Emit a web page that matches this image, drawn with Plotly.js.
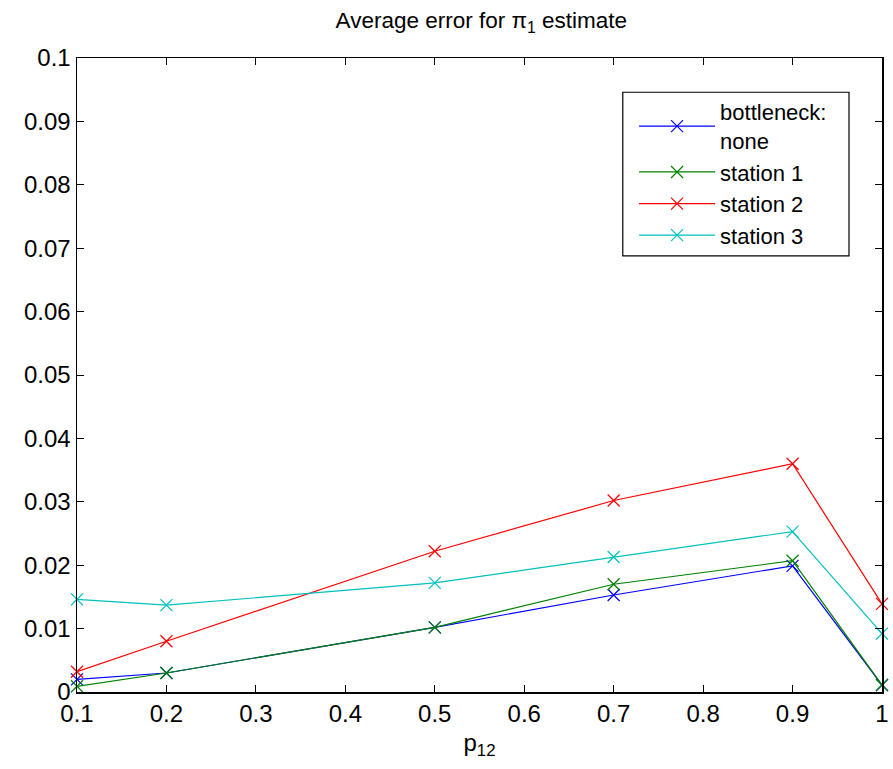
<!DOCTYPE html>
<html>
<head>
<meta charset="utf-8">
<script src="https://cdn.plot.ly/plotly-3.0.1.min.js"></script>
<style>body{margin:0;padding:0;background:#fff;}#chart{width:893px;height:769px;}</style>
</head>
<body>
<div id="chart"></div>
<script>
const p12 = [0.1, 0.2, 0.5, 0.7, 0.9, 1.0];
const seriesNames = ["bottleneck:<br>none", "station 1", "station 2", "station 3"];
const noneVals = [0.0020, 0.0030, 0.0102, 0.0153, 0.0199, 0.0011];
const station1Vals = [0.0009, 0.0030, 0.0102, 0.0170, 0.0207, 0.0011];
const station2Vals = [0.0032, 0.0080, 0.0222, 0.0302, 0.0360, 0.0139];
const station3Vals = [0.0146, 0.0137, 0.0172, 0.0213, 0.0253, 0.0092];
const colors = ["#0000ff", "#008000", "#ff0000", "#00bfbf"];
const xTicks = [0.1, 0.2, 0.3, 0.4, 0.5, 0.6, 0.7, 0.8, 0.9, 1];
const xTickText = ["0.1", "0.2", "0.3", "0.4", "0.5", "0.6", "0.7", "0.8", "0.9", "1"];
const yTicks = [0, 0.01, 0.02, 0.03, 0.04, 0.05, 0.06, 0.07, 0.08, 0.09, 0.1];
const yTickText = ["0", "0.01", "0.02", "0.03", "0.04", "0.05", "0.06", "0.07", "0.08", "0.09", "0.1"];

const allVals = [noneVals, station1Vals, station2Vals, station3Vals];
const traces = allVals.map((v, i) => ({
  x: p12, y: v, name: seriesNames[i], type: 'scatter', mode: 'lines+markers',
  line: {color: colors[i], width: 1.2},
  marker: {symbol: 'x-thin', size: 12, line: {color: colors[i], width: 1.2}},
  cliponaxis: false
}));

const fam = 'Liberation Sans, Arial, Helvetica, sans-serif';
const layout = {
  width: 893, height: 769,
  margin: {l: 77, r: 11, t: 58, b: 77},
  paper_bgcolor: '#fff', plot_bgcolor: '#fff',
  font: {family: fam, size: 24, color: '#000'},
  title: {text: 'Average error for π<sub>1</sub> estimate', x: 0.539, xanchor: 'center', y: 0.974, yanchor: 'middle',
          font: {family: fam, size: 22.5, color: '#000'}},
  showlegend: true,
  legend: {x: 0.692, y: 0.948, xanchor: 'left', yanchor: 'top', bgcolor: 'rgba(0,0,0,0)', borderwidth: 0,
           font: {size: 22, family: fam, color: '#000'}, tracegroupgap: 0, itemwidth: 76},
  shapes: [{type: 'rect', xref: 'paper', yref: 'paper', x0: 0.678, x1: 0.959, y0: 0.688, y1: 0.946,
            fillcolor: '#fff', line: {color: '#000', width: 1.2}, layer: 'below'}],
  xaxis: {range: [0.1, 1], tickvals: xTicks, ticktext: xTickText, ticks: 'inside', ticklen: 7, tickwidth: 1, tickcolor: '#000',
          showline: true, linecolor: '#000', linewidth: 1.5, mirror: 'ticks', showgrid: false, zeroline: false,
          title: {text: 'p<sub>12</sub>', font: {size: 24}, standoff: 8}, tickfont: {size: 24}},
  yaxis: {range: [0, 0.1], tickvals: yTicks, ticktext: yTickText, ticks: 'inside', ticklen: 7, tickwidth: 1, tickcolor: '#000',
          showline: true, linecolor: '#000', linewidth: 1.5, mirror: 'ticks', showgrid: false, zeroline: false, tickfont: {size: 24}}
};
Plotly.newPlot('chart', traces, layout, {displayModeBar: false, staticPlot: true});
</script>
</body>
</html>
